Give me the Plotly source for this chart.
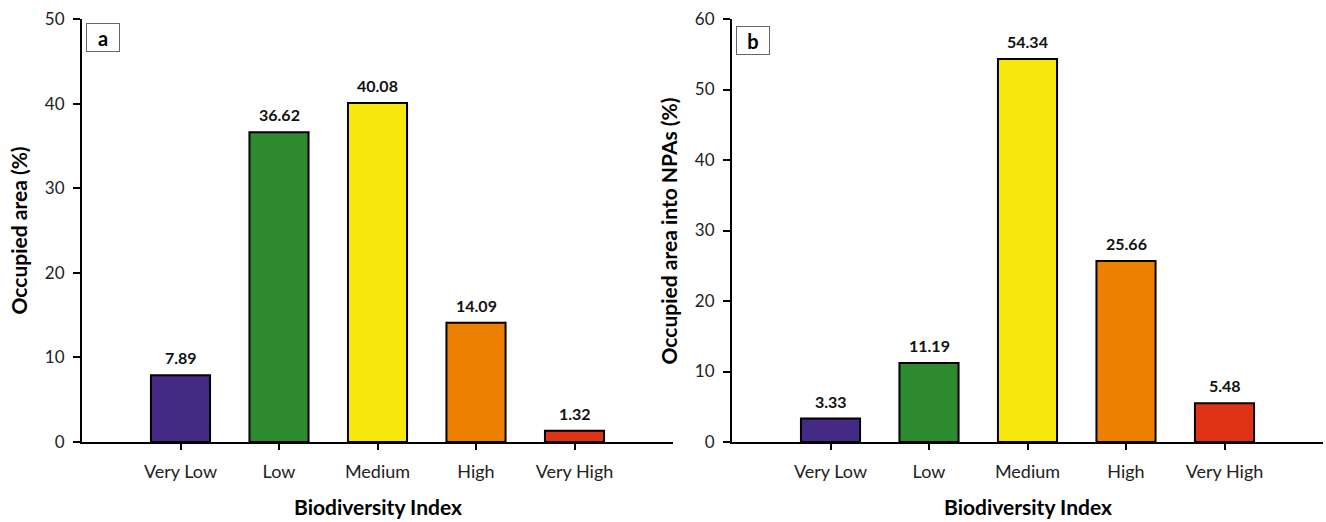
import plotly.graph_objects as go

categories = ["Very Low", "Low", "Medium", "High", "Very High"]
occupied_area = [7.89, 36.62, 40.08, 14.09, 1.32]
occupied_npas = [3.33, 11.19, 54.34, 25.66, 5.48]
bar_colors = ["#452A85", "#2E8A2E", "#F7E70F", "#EE8000", "#E03214"]

FONT = "Lato"

fig = go.Figure()

fig.add_trace(go.Bar(
    x=categories, y=occupied_area, xaxis="x", yaxis="y",
    marker=dict(color=bar_colors, line=dict(color="black", width=2)),
    width=0.6, showlegend=False,
))
fig.add_trace(go.Bar(
    x=categories, y=occupied_npas, xaxis="x2", yaxis="y2",
    marker=dict(color=bar_colors, line=dict(color="black", width=2)),
    width=0.6, showlegend=False,
))

xcommon = dict(
    type="category", range=[-1, 5], showline=True, linecolor="black", linewidth=2,
    ticks="outside", tickwidth=2, ticklen=6, tickcolor="black",
    tickfont=dict(family=FONT, size=18, color="#222"), ticklabelstandoff=6,
    showgrid=False, zeroline=False, fixedrange=True,
)
ycommon = dict(
    showline=True, linecolor="black", linewidth=2,
    ticks="outside", tickwidth=2, ticklen=7, tickcolor="black",
    tickfont=dict(family=FONT, size=17, color="#222"), ticklabelstandoff=5,
    showgrid=False, zeroline=False, dtick=10, fixedrange=True,
)

fig.update_layout(
    width=1326, height=522,
    margin=dict(l=82, r=3, t=19, b=80),
    paper_bgcolor="white", plot_bgcolor="white",
    bargap=0.4,
    xaxis=dict(domain=[0, 591 / 1241], anchor="y", **xcommon),
    xaxis2=dict(domain=[650 / 1241, 1], anchor="y2", **xcommon),
    yaxis=dict(domain=[0, 1], anchor="x", range=[0, 50], **ycommon),
    yaxis2=dict(domain=[0, 1], anchor="x2", range=[0, 60], **ycommon),
)

value_font = dict(family=FONT, size=16, color="#111", weight="bold")
title_font = dict(family=FONT, size=21, color="black", weight="bold")
annotations = []
for cat, v in zip(categories, occupied_area):
    annotations.append(dict(text=f"{v:.2f}", x=cat, y=v, xref="x", yref="y",
                            showarrow=False, font=value_font, yanchor="bottom", yshift=6))
for cat, v in zip(categories, occupied_npas):
    annotations.append(dict(text=f"{v:.2f}", x=cat, y=v, xref="x2", yref="y2",
                            showarrow=False, font=value_font, yanchor="bottom", yshift=6))
annotations += [
    dict(text="Biodiversity Index", xref="x domain", yref="y domain", x=0.5, y=-0.153,
         showarrow=False, font=title_font, xanchor="center", yanchor="middle"),
    dict(text="Biodiversity Index", xref="x2 domain", yref="y2 domain", x=0.5, y=-0.153,
         showarrow=False, font=title_font, xanchor="center", yanchor="middle"),
    dict(text="Occupied area (%)", xref="x domain", yref="y domain", x=-0.1066, y=0.5,
         textangle=-90, showarrow=False, font=title_font, xanchor="center", yanchor="middle"),
    dict(text="Occupied area into NPAs (%)", xref="x2 domain", yref="y2 domain", x=-0.1066, y=0.5,
         textangle=-90, showarrow=False, font=title_font, xanchor="center", yanchor="middle"),
    dict(text="a", xref="x domain", yref="y domain", x=0.0355, y=0.956,
         showarrow=False, font=dict(family=FONT, size=20, color="black", weight="bold"),
         xanchor="center", yanchor="middle",
         width=26, height=21, borderpad=3, bordercolor="#666", borderwidth=1, bgcolor="white"),
    dict(text="b", xref="x2 domain", yref="y2 domain", x=0.0355, y=0.949,
         showarrow=False, font=dict(family=FONT, size=20, color="black", weight="bold"),
         xanchor="center", yanchor="middle",
         width=26, height=21, borderpad=3, bordercolor="#666", borderwidth=1, bgcolor="white"),
]
fig.update_layout(annotations=annotations)

fig.write_html("out.html", config={"displayModeBar": False},
               post_script="document.body.style.margin='0';")
